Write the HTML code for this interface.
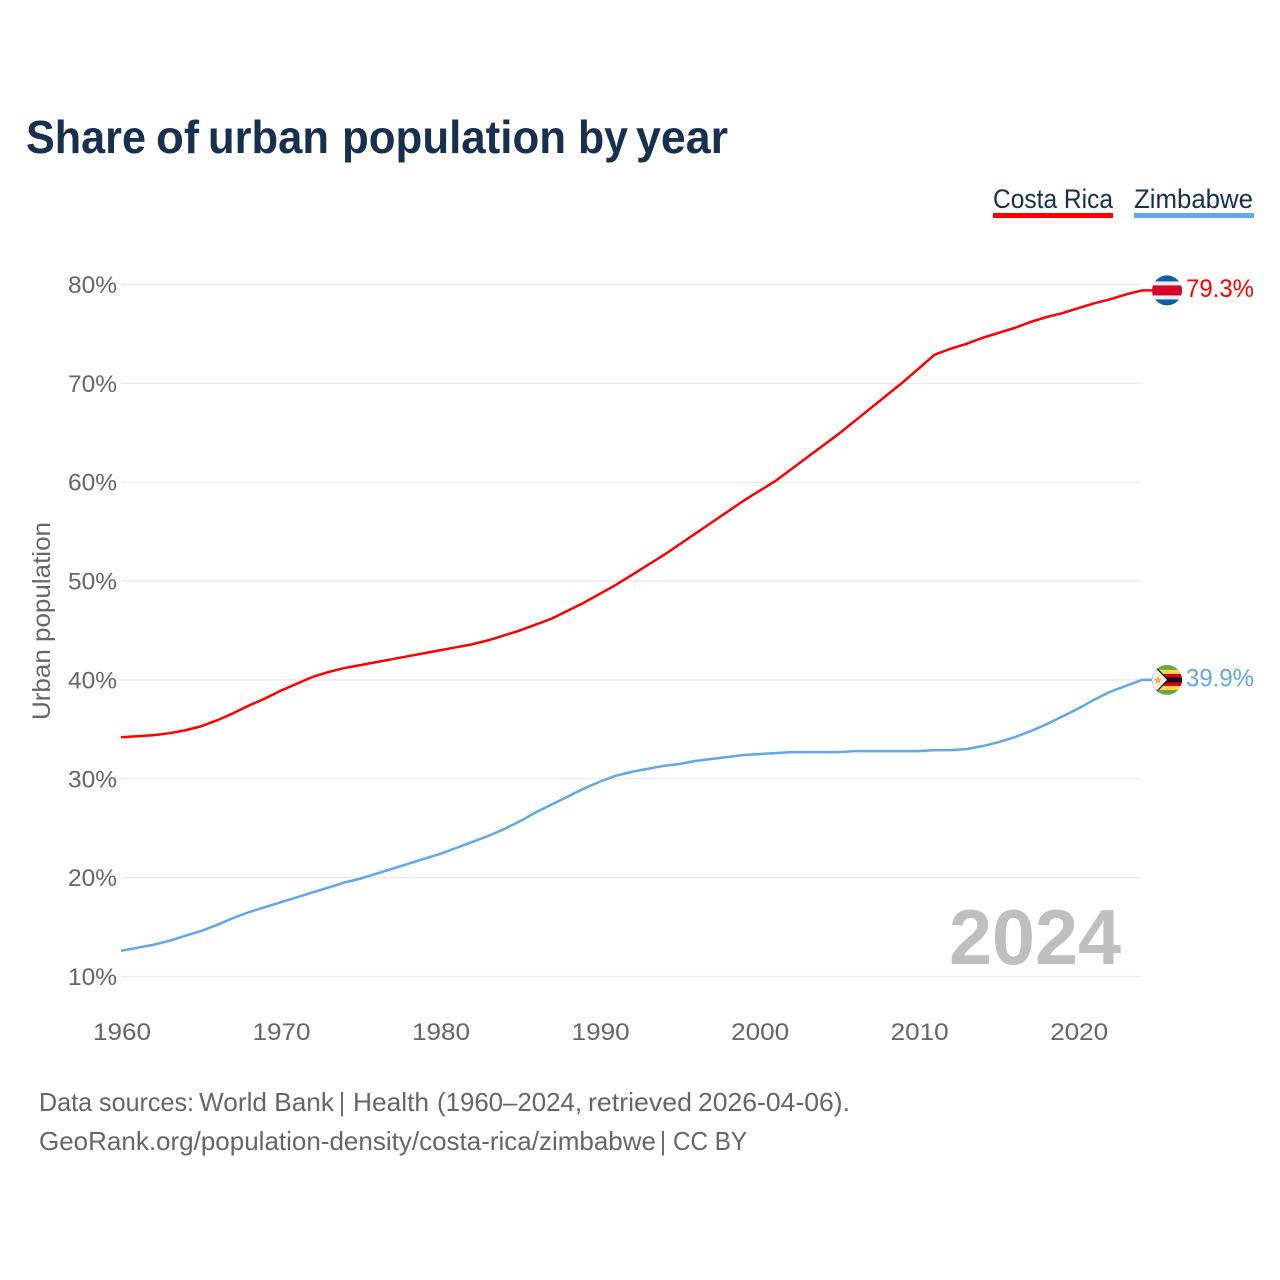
<!DOCTYPE html>
<html lang="en">
<head>
<meta charset="utf-8">
<title>Share of urban population by year</title>
<style>
html,body{margin:0;padding:0;background:#fff;width:1280px;height:1280px;overflow:hidden}
svg{display:block}
text{font-family:"Liberation Sans",sans-serif}
</style>
</head>
<body>
<svg id="chart" xmlns="http://www.w3.org/2000/svg" width="1280" height="1280" viewBox="0 0 1280 1280">
<defs>
<clipPath id="clip-cr"><circle cx="0" cy="0" r="15"/></clipPath>
<clipPath id="clip-zw"><circle cx="0" cy="0" r="15"/></clipPath>
</defs>
<rect x="0" y="0" width="1280" height="1280" fill="#fff"/>
<text y="153" font-size="46" font-weight="700" fill="#18304f" lengthAdjust="spacingAndGlyphs"><tspan x="26" textLength="120" lengthAdjust="spacingAndGlyphs">Share</tspan> <tspan x="156" textLength="43" lengthAdjust="spacingAndGlyphs">of</tspan> <tspan x="208" textLength="121" lengthAdjust="spacingAndGlyphs">urban</tspan> <tspan x="342" textLength="224" lengthAdjust="spacingAndGlyphs">population</tspan> <tspan x="578" textLength="50" lengthAdjust="spacingAndGlyphs">by</tspan> <tspan x="636" textLength="92" lengthAdjust="spacingAndGlyphs">year</tspan></text>

<g>
<g>
<text x="993" y="208" font-size="27" fill="#18304f" textLength="120" lengthAdjust="spacingAndGlyphs">Costa Rica</text>
<rect x="993" y="213" width="120" height="5" fill="#ff0000"/>
</g>
<g>
<text x="1134" y="208" font-size="27" fill="#18304f" textLength="119" lengthAdjust="spacingAndGlyphs">Zimbabwe</text>
<rect x="1134" y="213" width="120" height="5" fill="#62a6ec"/>
</g>
</g>

<g id="grid"></g>
<g id="yticks"></g>
<g id="xticks"></g>
<text transform="translate(50,621) rotate(-90)" text-anchor="middle" font-size="25" fill="#666" textLength="198" lengthAdjust="spacingAndGlyphs">Urban population</text>

<text x="949" y="964" font-size="78" font-weight="700" fill="#bfbfbf" textLength="172" lengthAdjust="spacingAndGlyphs">2024</text>

<g id="series"></g>

<g id="flag-cr">
<g clip-path="url(#clip-cr)">
<rect x="-15" y="-15" width="30" height="30" fill="#eeeeee"/>
<rect x="-15" y="-15" width="30" height="6" fill="#0d5eaf"/>
<rect x="-15" y="9" width="30" height="6" fill="#0d5eaf"/>
<rect x="-15" y="-5" width="30" height="10" fill="#d80027"/>
</g>
</g>
<g id="flag-zw">
<g clip-path="url(#clip-zw)">
<rect x="-15" y="-15" width="30" height="30" fill="#6da544"/>
<rect x="-15" y="-10" width="30" height="20" fill="#ffda44"/>
<rect x="-15" y="-6" width="30" height="12" fill="#d80027"/>
<rect x="-15" y="-2.5" width="30" height="5" fill="#1a1010"/>
<polygon points="-15,-15 -13,-15 2,0 -13,15 -15,15" fill="#111"/>
<polygon points="-15,-14 -13.5,-14 0,0 -13.5,14 -15,14" fill="#eeeeee"/>
<polygon points="-9,-4 -7.8,-1.2 -5,-1 -7.2,0.8 -6.5,3.8 -9,2.2 -11.5,3.8 -10.8,0.8 -13,-1 -10.2,-1.2" fill="#f5b335"/>
</g>
</g>
<g id="endlabels"></g>

<g>
<text y="1111" font-size="26" fill="#666"><tspan x="39" textLength="155" lengthAdjust="spacingAndGlyphs">Data sources:</tspan> <tspan x="199" textLength="135" lengthAdjust="spacingAndGlyphs">World Bank</tspan> <tspan x="339" textLength="6" lengthAdjust="spacingAndGlyphs">|</tspan> <tspan x="353" textLength="76" lengthAdjust="spacingAndGlyphs">Health</tspan> <tspan x="437" textLength="145" lengthAdjust="spacingAndGlyphs">(1960–2024,</tspan> <tspan x="588" textLength="104" lengthAdjust="spacingAndGlyphs">retrieved</tspan> <tspan x="698" textLength="152" lengthAdjust="spacingAndGlyphs">2026-04-06).</tspan></text>
<text y="1150" font-size="26" fill="#666"><tspan x="39" textLength="617" lengthAdjust="spacingAndGlyphs">GeoRank.org/population-density/costa-rica/zimbabwe</tspan> <tspan x="660" textLength="6" lengthAdjust="spacingAndGlyphs">|</tspan> <tspan x="673" textLength="74" lengthAdjust="spacingAndGlyphs">CC BY</tspan></text>
</g>
</svg>
<script>
const startYear = 1960;
const endYear = 2024;
const xTicks = [1960, 1970, 1980, 1990, 2000, 2010, 2020];
const yTicks = [10, 20, 30, 40, 50, 60, 70, 80];
const costaRica = [34.2,34.3,34.4,34.6,34.9,35.3,35.9,36.6,37.4,38.1,38.9,39.6,40.3,40.8,41.2,41.5,41.8,42.1,42.4,42.7,43.0,43.3,43.6,44.0,44.5,45.0,45.6,46.2,47.0,47.8,48.7,49.6,50.6,51.6,52.6,53.7,54.8,55.9,57.0,58.1,59.1,60.1,61.3,62.5,63.7,64.9,66.2,67.5,68.8,70.1,71.5,72.9,73.5,74.0,74.6,75.1,75.6,76.2,76.7,77.1,77.6,78.1,78.5,79.0,79.4];
const zimbabwe = [12.6,12.9,13.2,13.6,14.1,14.6,15.2,15.9,16.5,17.0,17.5,18.0,18.5,19.0,19.5,19.9,20.4,20.9,21.4,21.9,22.4,23.0,23.6,24.2,24.9,25.7,26.6,27.4,28.2,29.0,29.7,30.3,30.7,31.0,31.3,31.5,31.8,32.0,32.2,32.4,32.5,32.6,32.7,32.7,32.7,32.7,32.8,32.8,32.8,32.8,32.8,32.9,32.9,33.0,33.3,33.7,34.2,34.8,35.5,36.3,37.1,38.0,38.8,39.4,40.0];
const costaRicaLabel = "79.3%";
const zimbabweLabel = "39.9%";

const NS = "http://www.w3.org/2000/svg";
const plotLeft = 121, plotRight = 1142, yTop = 284.5, yBottom = 976.5, yMin = 10, yMax = 80;
const flagX = 1167, leaderEnd = 1152;
function xScale(year){ return plotLeft + (year - startYear) * (plotRight - plotLeft) / (endYear - startYear); }
function yScale(v){ return yBottom - (v - yMin) * (yBottom - yTop) / (yMax - yMin); }
function make(tag, attrs, parent, content){
  const el = document.createElementNS(NS, tag);
  for (const k in attrs) el.setAttribute(k, attrs[k]);
  if (content !== undefined) el.textContent = content;
  parent.appendChild(el);
  return el;
}
const grid = document.getElementById("grid");
const yG = document.getElementById("yticks");
const xG = document.getElementById("xticks");
const seriesG = document.getElementById("series");
const labelsG = document.getElementById("endlabels");

yTicks.forEach(function(t){
  const line = make("line", {x1: plotLeft, x2: plotRight - 1, y1: yScale(t), y2: yScale(t), stroke: "#ebebeb", "stroke-width": 1.3}, grid);
  
  
  const label = make("text", {x: 117, y: yScale(t) + 8.5, "text-anchor": "end", "font-size": 24.5, fill: "#666", textLength: 49, lengthAdjust: "spacingAndGlyphs"}, yG, t + "%");
  
  
});
xTicks.forEach(function(t){
  const label = make("text", {x: xScale(t) + 1, y: 1040, "text-anchor": "middle", "font-size": 24.5, fill: "#666", textLength: 58, lengthAdjust: "spacingAndGlyphs"}, xG, String(t));
  
  
});
function pathFor(values){
  const pts = values.map(function(v, i){ return (i ? "L" : "M") + xScale(startYear + i).toFixed(2) + " " + yScale(v).toFixed(2); });
  pts.push("L" + leaderEnd + " " + yScale(values[values.length - 1]).toFixed(2));
  return pts.join(" ");
}
const lineCR = make("path", {d: pathFor(costaRica), fill: "none", stroke: "#ff0000", "stroke-width": 2.5, "stroke-linejoin": "round"}, seriesG);


const lineZW = make("path", {d: pathFor(zimbabwe), fill: "none", stroke: "#62a6ec", "stroke-width": 2.5, "stroke-linejoin": "round"}, seriesG);



const crEnd = yScale(costaRica[costaRica.length - 1]);
const zwEnd = yScale(zimbabwe[zimbabwe.length - 1]);
document.getElementById("flag-cr").setAttribute("transform", "translate(" + flagX + "," + crEnd + ")");
document.getElementById("flag-zw").setAttribute("transform", "translate(" + flagX + "," + zwEnd + ")");
const labelCR = make("text", {x: 1186, y: crEnd + 6.5, "font-size": 25, fill: "#ff0000", textLength: 68, lengthAdjust: "spacingAndGlyphs"}, labelsG, costaRicaLabel);


const labelZW = make("text", {x: 1186, y: zwEnd + 6.5, "font-size": 25, fill: "#62a6ec", textLength: 68, lengthAdjust: "spacingAndGlyphs"}, labelsG, zimbabweLabel);


</script>
</body>
</html>
